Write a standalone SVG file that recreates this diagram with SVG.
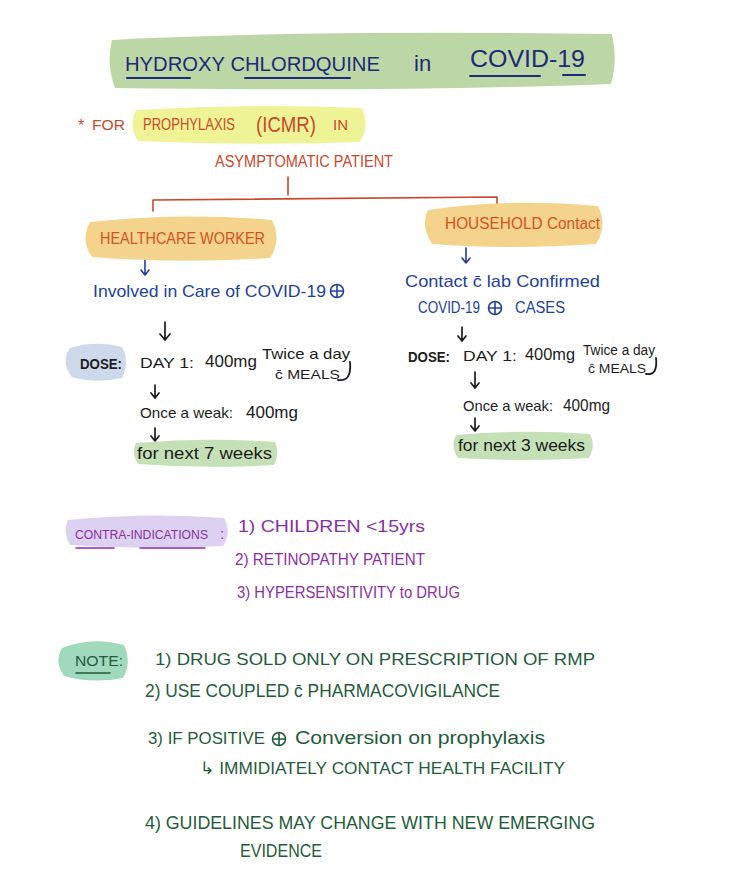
<svg xmlns="http://www.w3.org/2000/svg" width="734" height="875" viewBox="0 0 734 875">
<defs>
<style>
text{font-family:"Liberation Sans","DejaVu Sans",sans-serif;}
.navy{fill:#1d2a78;}
.red{fill:#c9482b;}
.blue{fill:#233f9e;}
.blk{fill:#1c1c1c;}
.pur{fill:#8b2ea6;}
.grn{fill:#1f5b3c;}
.ln{fill:none;stroke-linecap:round;stroke-linejoin:round;}
.ab{fill:none;stroke:#233f9e;stroke-width:1.6;stroke-linecap:round;stroke-linejoin:round;}
.ak{fill:none;stroke:#1c1c1c;stroke-width:1.7;stroke-linecap:round;stroke-linejoin:round;}
</style>
</defs>
<rect width="734" height="875" fill="#ffffff"/>

<g id="title">
<path d="M112,40 Q300,30 612,34 Q618,60 611,84 Q400,92 115,88 Q106,64 112,40 Z" fill="#bdd6a5"/>
<text x="125" y="71" font-size="21" class="navy" textLength="255" lengthAdjust="spacingAndGlyphs">HYDROXY CHLORDQUINE</text>
<text x="414" y="71" font-size="22" class="navy">in</text>
<text x="470" y="67" font-size="23" class="navy" textLength="115" lengthAdjust="spacingAndGlyphs">COVID-19</text>
<path class="ln" stroke="#1d2a78" stroke-width="2" d="M127,78 H190 M245,78 H350 M470,76 H540 M563,75 H585"/>
</g>

<g id="prophylaxis">
<path d="M136,110 Q250,103 362,108 Q370,126 360,142 Q250,146 138,141 Q128,125 136,110 Z" fill="#eef396"/>
<text x="78" y="131" font-size="16" class="red">*</text>
<text x="92" y="130" font-size="15" class="red" textLength="33" lengthAdjust="spacingAndGlyphs">FOR</text>
<text x="143" y="130" font-size="17" class="red" textLength="92" lengthAdjust="spacingAndGlyphs">PROPHYLAXIS</text>
<text x="256" y="132" font-size="22" class="red" textLength="60" lengthAdjust="spacingAndGlyphs">(ICMR)</text>
<text x="333" y="130" font-size="15" class="red">IN</text>
<text x="215" y="167" font-size="16" class="red" textLength="178" lengthAdjust="spacingAndGlyphs">ASYMPTOMATIC PATIENT</text>
</g>

<g id="connectors">
<path class="ln" stroke="#c9482b" stroke-width="1.6" d="M288,177 V195 M153,211 V200 L497,197 V210"/>
<path class="ab" d="M145,259 V275 M141,270 L145,275 L149,270"/>
<path class="ab" d="M466,248 V263 M462,258 L466,263 L470,258"/>
<path class="ak" stroke-width="2.2" d="M165,322 V340 M160,334 L165,340 L170,334"/>
<path class="ak" d="M462,327 V341 M458,336 L462,341 L466,336"/>
<path class="ak" d="M155,385 V398 M151,393 L155,398 L159,393"/>
<path class="ak" d="M155,428 V441 M151,436 L155,441 L159,436"/>
<path class="ak" d="M475,372 V388 M471,383 L475,388 L479,383"/>
<path class="ak" d="M475,418 V431 M471,426 L475,431 L479,426"/>
</g>

<g id="healthcare-worker">
<path d="M90,222 Q180,212 272,220 Q282,240 270,258 Q180,264 92,257 Q80,240 90,222 Z" fill="#f4d38d"/>
<text x="100" y="244" font-size="16" fill="#d3531e" textLength="165" lengthAdjust="spacingAndGlyphs">HEALTHCARE WORKER</text>
</g>

<g id="healthcare-detail">
<text x="93" y="297" font-size="17" class="blue" textLength="233" lengthAdjust="spacingAndGlyphs">Involved in Care of COVID-19</text>
<circle cx="337" cy="291" r="6.5" fill="none" stroke="#233f9e" stroke-width="1.6"/>
<path class="ln" stroke="#233f9e" stroke-width="1.6" d="M331,291 H343 M337,285 V297"/>
</g>

<g id="household-contact">
<path d="M428,210 Q510,198 598,206 Q608,226 596,244 Q510,250 432,244 Q420,226 428,210 Z" fill="#f4d38d"/>
<text x="445" y="229" font-size="16" fill="#d3531e" textLength="155" lengthAdjust="spacingAndGlyphs">HOUSEHOLD Contact</text>
</g>

<g id="household-detail">
<text x="405" y="287" font-size="17" class="blue" textLength="195" lengthAdjust="spacingAndGlyphs">Contact c̄ lab Confirmed</text>
<text x="418" y="313" font-size="16" class="blue" textLength="62" lengthAdjust="spacingAndGlyphs">COVID-19</text>
<circle cx="495" cy="308" r="6.5" fill="none" stroke="#233f9e" stroke-width="1.6"/>
<path class="ln" stroke="#233f9e" stroke-width="1.6" d="M489,308 H501 M495,302 V314"/>
<text x="515" y="313" font-size="16" class="blue" textLength="50" lengthAdjust="spacingAndGlyphs">CASES</text>
</g>

<g id="dose-left">
<path d="M70,348 Q95,340 122,347 Q130,362 122,378 Q95,384 72,377 Q60,362 70,348 Z" fill="#cdd9eb"/>
<text x="80" y="369" font-size="14" font-weight="bold" class="blk" textLength="42" lengthAdjust="spacingAndGlyphs">DOSE:</text>
<text x="140" y="368" font-size="15" class="blk" textLength="54" lengthAdjust="spacingAndGlyphs">DAY 1:</text>
<text x="205" y="367" font-size="17" class="blk" textLength="52" lengthAdjust="spacingAndGlyphs">400mg</text>
<text x="262" y="359" font-size="15" class="blk" textLength="88" lengthAdjust="spacingAndGlyphs">Twice a day</text>
<text x="275" y="379" font-size="13" class="blk" textLength="65" lengthAdjust="spacingAndGlyphs">c̄ MEALS</text>
<path class="ln" stroke="#1c1c1c" stroke-width="1.8" d="M350,362 Q352,382 338,380"/>
<text x="140" y="418" font-size="15" class="blk" textLength="93" lengthAdjust="spacingAndGlyphs">Once a weak:</text>
<text x="246" y="418" font-size="17" class="blk" textLength="52" lengthAdjust="spacingAndGlyphs">400mg</text>
<path d="M136,443 Q205,437 275,442 Q280,453 274,465 Q205,469 138,464 Q131,453 136,443 Z" fill="#c5e0b7"/>
<text x="137" y="459" font-size="16" class="blk" textLength="135" lengthAdjust="spacingAndGlyphs">for next 7 weeks</text>
</g>

<g id="dose-right">
<text x="408" y="362" font-size="14" font-weight="bold" class="blk" textLength="42" lengthAdjust="spacingAndGlyphs">DOSE:</text>
<text x="463" y="361" font-size="15" class="blk" textLength="54" lengthAdjust="spacingAndGlyphs">DAY 1:</text>
<text x="525" y="360" font-size="17" class="blk" textLength="50" lengthAdjust="spacingAndGlyphs">400mg</text>
<text x="583" y="355" font-size="14" class="blk" textLength="72" lengthAdjust="spacingAndGlyphs">Twice a day</text>
<text x="588" y="373" font-size="12" class="blk" textLength="58" lengthAdjust="spacingAndGlyphs">c̄ MEALS</text>
<path class="ln" stroke="#1c1c1c" stroke-width="1.8" d="M656,358 Q658,376 646,374"/>
<text x="463" y="411" font-size="15" class="blk" textLength="90" lengthAdjust="spacingAndGlyphs">Once a weak:</text>
<text x="563" y="411" font-size="17" class="blk" textLength="47" lengthAdjust="spacingAndGlyphs">400mg</text>
<path d="M456,435 Q525,429 590,434 Q596,446 589,458 Q525,462 458,458 Q450,446 456,435 Z" fill="#c5e0b7"/>
<text x="458" y="451" font-size="16" class="blk" textLength="127" lengthAdjust="spacingAndGlyphs">for next 3 weeks</text>
</g>

<g id="contra-indications">
<path d="M68,520 Q150,512 224,518 Q232,532 223,546 Q150,550 70,545 Q62,532 68,520 Z" fill="#dcd1f0"/>
<text x="75" y="539" font-size="12" class="pur" textLength="133" lengthAdjust="spacingAndGlyphs">CONTRA-INDICATIONS</text>
<text x="220" y="539" font-size="15" class="pur">:</text>
<path class="ln" stroke="#8b2ea6" stroke-width="1.6" d="M76,548 H114 M140,548 H205"/>
<text x="238" y="532" font-size="17" class="pur" textLength="187" lengthAdjust="spacingAndGlyphs">1) CHILDREN  &lt;15yrs</text>
<text x="235" y="565" font-size="17" class="pur" textLength="190" lengthAdjust="spacingAndGlyphs">2) RETINOPATHY PATIENT</text>
<text x="237" y="598" font-size="17" class="pur" textLength="223" lengthAdjust="spacingAndGlyphs">3) HYPERSENSITIVITY to DRUG</text>
</g>

<g id="note">
<path d="M62,648 Q92,636 124,645 Q132,662 123,678 Q92,684 64,676 Q54,662 62,648 Z" fill="#a0d9bc"/>
<text x="75" y="666" font-size="14" class="grn" textLength="48" lengthAdjust="spacingAndGlyphs">NOTE:</text>
<path class="ln" stroke="#1f5b3c" stroke-width="1.6" d="M76,673 H110"/>
<text x="155" y="665" font-size="17" class="grn" textLength="440" lengthAdjust="spacingAndGlyphs">1) DRUG  SOLD  ONLY  ON PRESCRIPTION  OF RMP</text>
<text x="145" y="697" font-size="18" class="grn" textLength="355" lengthAdjust="spacingAndGlyphs">2) USE  COUPLED c̄  PHARMACOVIGILANCE</text>
<text x="148" y="744" font-size="17" class="grn" textLength="117" lengthAdjust="spacingAndGlyphs">3) IF POSITIVE</text>
<circle cx="279" cy="739" r="6.5" fill="none" stroke="#1f5b3c" stroke-width="1.6"/>
<path class="ln" stroke="#1f5b3c" stroke-width="1.6" d="M273,739 H285 M279,733 V745"/>
<text x="295" y="744" font-size="18" class="grn" textLength="250" lengthAdjust="spacingAndGlyphs">Conversion on prophylaxis</text>
<text x="200" y="774" font-size="17" class="grn" textLength="365" lengthAdjust="spacingAndGlyphs">↳ IMMIDIATELY  CONTACT  HEALTH  FACILITY</text>
<text x="145" y="829" font-size="18" class="grn" textLength="450" lengthAdjust="spacingAndGlyphs">4) GUIDELINES  MAY  CHANGE  WITH  NEW  EMERGING</text>
<text x="240" y="857" font-size="18" class="grn" textLength="82" lengthAdjust="spacingAndGlyphs">EVIDENCE</text>
</g>
</svg>
